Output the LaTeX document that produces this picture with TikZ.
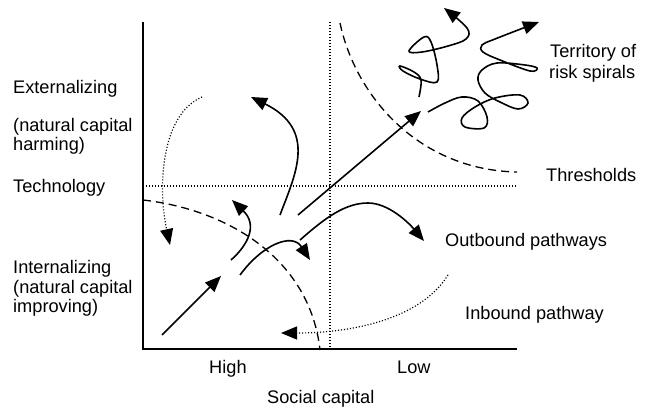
\documentclass[tikz,border=0pt]{standalone}
\usepackage{fontspec}
\setmainfont{Liberation Sans}
\usetikzlibrary{arrows.meta}
\begin{document}
\begin{tikzpicture}[x=1pt,y=-1pt,
  lbl/.style={anchor=base west,inner sep=0pt,font=\fontsize{18.2}{20}\selectfont},
  axisline/.style={line width=1.7pt},
  pathway/.style={line width=1.6pt,-{Triangle[length=16pt,width=13pt]}},
  thresh/.style={line width=1.3pt,dash pattern=on 8pt off 5pt},
  dotline/.style={line width=1.2pt,dash pattern=on 1.1pt off 1.9pt},
  dotway/.style={line width=1.2pt,dash pattern=on 1.1pt off 1.9pt,-{Triangle[length=16pt,width=13pt]}}]
\useasboundingbox (0,0) rectangle (648,409);

% axes
\coordinate (top) at (143,22);
\coordinate (origin) at (143,349);
\coordinate (xend) at (517,349);
\draw[axisline] (top) -- (origin) -- (xend);

% dotted quadrant lines
\coordinate (vtop) at (330,22);
\coordinate (vbot) at (330,348);
\coordinate (hleft) at (143,186);
\coordinate (hright) at (516,186);
\draw[dotline] (vtop) -- (vbot);
\draw[dotline] (hleft) -- (hright);

% thresholds
\coordinate (t1a) at (340,23);
\coordinate (t1b) at (517,172);
\draw[thresh] (t1a) .. controls (356,98) and (420,170) .. (t1b);
\coordinate (t2a) at (143,200);
\coordinate (t2b) at (320,350);
\draw[thresh] (t2a) .. controls (230,210) and (310,260) .. (t2b);

% pathways
\coordinate (p1a) at (162,335);
\coordinate (p1b) at (221,276);
\draw[pathway] (p1a) -- (p1b);

\coordinate (p2a) at (231,260);
\coordinate (p2b) at (232,200);
\draw[pathway] (p2a) .. controls (248,245) and (258,225) .. (p2b);

\coordinate (p3a) at (240,275);
\coordinate (p3b) at (310,260);
\draw[pathway] (p3a) .. controls (262,245) and (292,232) .. (p3b);

\coordinate (p4a) at (280,215);
\coordinate (p4b) at (251,97);
\draw[pathway] (p4a) .. controls (295,175) and (318,130) .. (p4b);

\coordinate (p5a) at (298,215);
\coordinate (p5b) at (421,111);
\draw[pathway] (p5a) -- (p5b);

\coordinate (p6a) at (300,240);
\coordinate (p6m) at (368,203);
\coordinate (p6b) at (424,241);
\draw[pathway] (p6a) .. controls (325,218) and (345,203) .. (p6m)
  .. controls (388,203) and (408,222) .. (p6b);

% dotted pathways
\coordinate (d1a) at (202,97);
\coordinate (d1b) at (170,245);
\draw[dotway] (d1a) .. controls (160,115) and (158,190) .. (d1b);
\coordinate (d2a) at (448,275);
\coordinate (d2b) at (281,333);
\draw[dotway] (d2a) .. controls (420,320) and (350,333) .. (d2b);

% risk spirals
\draw[pathway] plot[smooth,tension=0.6] coordinates {
  (419,97) (421,80) (414,72) (400,66) (403,71) (420,79) (437,82)
  (437,65) (431,42) (424,37) (409,51) (422,52) (448,46) (466,39)
  (467,28) (444,8)};
\draw[pathway] plot[smooth,tension=0.6] coordinates {
  (428,112) (445,103) (462,97) (478,101) (487,117) (484,128) (465,127)
  (462,118) (475,107) (495,98) (520,95) (528,103) (518,109) (500,102)
  (485,93) (478,80) (482,70) (497,63) (525,65) (537,68) (530,71)
  (500,60) (483,52) (482,45) (495,39) (539,22)};

% labels
\node[lbl] (ext) at (13,94) {Externalizing};
\node[lbl] (nc1) at (13,132) {(natural capital};
\node[lbl] (harm) at (13,151) {harming)};
\node[lbl] (tech) at (13,192) {Technology};
\node[lbl] (int) at (13,273) {Internalizing};
\node[lbl] (nc2) at (13,293) {(natural capital};
\node[lbl] (impr) at (13,312) {improving)};
\node[lbl] (terr) at (550,58) {Territory of};
\node[lbl] (risk) at (549,79) {risk spirals};
\node[lbl] (thr) at (546,182) {Thresholds};
\node[lbl] (out) at (445,246) {Outbound pathways};
\node[lbl] (inb) at (465,319) {Inbound pathway};
\node[lbl] (high) at (209,373) {High};
\node[lbl] (low) at (397,373) {Low};
\node[lbl] (soc) at (267,403) {Social capital};
\end{tikzpicture}
\end{document}
